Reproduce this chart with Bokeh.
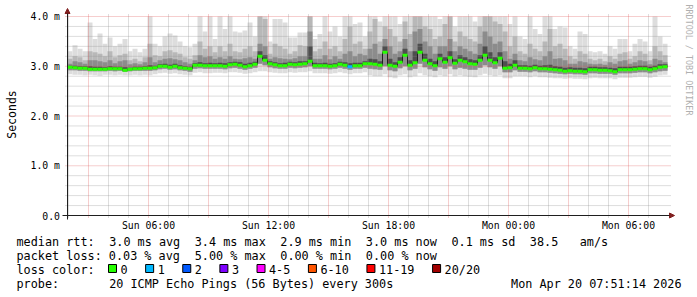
import math
import re
from bokeh.plotting import figure
from bokeh.models import Range1d, Label, BoxAnnotation, Arrow, NormalHead
from bokeh.embed import file_html
from bokeh.resources import INLINE

# ---------------- data (hours since Sun 00:00, values in ms) ----------------
start_hour = 1.95      # first 15-minute column (Sun 01:57)
step_hours = 0.25
span_hours = 30.05

median_rtt = [
    2.98, 2.97, 2.96, 2.96, 2.94, 2.94, 2.94, 2.94, 2.95, 2.95, 2.95, 2.92, 2.94, 2.95, 2.95,
    2.96, 2.96, 2.97, 3.00, 3.00, 2.98, 3.00, 2.97, 2.96, 2.95, 3.02, 3.02, 3.01, 3.01, 3.01,
    3.01, 3.00, 3.03, 3.04, 3.02, 2.99, 3.01, 3.04, 3.20, 3.12, 3.05, 3.03, 3.01, 3.01, 3.04,
    3.03, 3.04, 3.05, 3.10, 3.01, 3.01, 3.01, 3.00, 3.01, 3.04, 3.02, 2.99, 3.01, 3.01, 3.05,
    3.05, 3.04, 3.02, 3.28, 3.02, 3.00, 3.08, 3.22, 3.02, 3.07, 3.28, 3.12, 3.05, 3.01, 3.15,
    3.08, 3.17, 3.06, 3.12, 3.09, 3.05, 3.04, 3.12, 3.22, 3.12, 3.07, 3.16, 2.96, 2.97, 3.02,
    2.96, 2.96, 2.95, 2.97, 2.95, 2.95, 2.94, 2.93, 2.92, 2.90, 2.91, 2.90, 2.90, 2.89, 2.93,
    2.93, 2.92, 2.92, 2.91, 2.89, 2.93, 2.93, 2.93, 2.94, 2.95, 2.95, 2.93, 2.95, 2.98, 2.99,
]
rtt_max = [
    3.30, 3.42, 3.35, 3.30, 3.88, 3.55, 3.66, 3.45, 3.58, 3.40, 3.45, 3.55, 3.30, 3.35, 3.28,
    3.35, 4.05, 3.45, 3.40, 3.60, 3.66, 3.62, 3.50, 3.40, 3.38, 3.45, 4.05, 3.70, 4.05, 3.55,
    4.05, 3.75, 4.05, 3.70, 3.68, 3.72, 3.88, 3.60, 4.05, 4.05, 3.50, 3.95, 3.95, 3.88, 3.58,
    3.58, 3.68, 3.68, 4.05, 3.55, 3.65, 4.05, 3.70, 3.80, 3.60, 4.05, 4.05, 3.85, 3.88, 3.60,
    4.05, 4.05, 3.90, 4.05, 4.05, 4.05, 3.85, 4.05, 4.05, 4.05, 4.05, 4.05, 4.05, 4.05, 3.95,
    4.05, 4.05, 3.80, 4.05, 4.05, 4.05, 3.90, 4.05, 4.05, 4.05, 4.05, 4.05, 4.05, 3.85, 4.05,
    3.60, 3.55, 4.05, 3.75, 3.65, 4.05, 4.05, 3.75, 3.80, 3.78, 3.40, 3.35, 3.70, 3.65, 3.30,
    3.28, 3.30, 3.25, 3.40, 3.35, 3.55, 3.55, 3.30, 3.45, 3.55, 3.50, 3.30, 4.05, 3.60, 3.45,
]
rtt_p90 = [
    3.15, 3.20, 3.18, 3.12, 3.30, 3.28, 3.25, 3.20, 3.30, 3.18, 3.22, 3.25, 3.12, 3.15, 3.10,
    3.18, 3.45, 3.22, 3.20, 3.30, 3.32, 3.28, 3.25, 3.18, 3.15, 3.22, 3.50, 3.35, 3.40, 3.28,
    3.40, 3.30, 3.45, 3.30, 3.28, 3.35, 3.40, 3.30, 4.05, 3.95, 3.25, 3.45, 3.40, 3.35, 3.25,
    3.30, 3.42, 3.40, 4.00, 3.30, 3.35, 3.50, 3.35, 3.40, 3.30, 3.55, 3.80, 3.45, 3.50, 3.35,
    3.70, 3.95, 3.50, 3.80, 3.75, 3.60, 3.50, 3.90, 3.65, 4.05, 4.05, 3.80, 3.75, 3.55, 3.60,
    3.85, 4.05, 3.50, 3.70, 3.60, 3.55, 3.50, 3.80, 4.05, 4.05, 3.90, 3.85, 3.70, 3.40, 3.60,
    3.30, 3.25, 3.45, 3.35, 3.30, 3.50, 3.75, 3.40, 3.45, 3.35, 3.20, 3.15, 3.30, 3.25, 3.15,
    3.12, 3.15, 3.10, 3.20, 3.15, 3.25, 3.28, 3.15, 3.20, 3.30, 3.25, 3.12, 3.40, 3.30, 3.22,
]
rtt_p75 = [
    3.05, 3.10, 3.08, 3.05, 3.12, 3.12, 3.10, 3.08, 3.12, 3.06, 3.10, 3.12, 3.04, 3.06, 3.04,
    3.08, 3.18, 3.08, 3.12, 3.15, 3.16, 3.14, 3.12, 3.08, 3.05, 3.12, 3.22, 3.18, 3.20, 3.15,
    3.18, 3.15, 3.20, 3.15, 3.14, 3.16, 3.18, 3.15, 3.45, 3.40, 3.15, 3.18, 3.16, 3.15, 3.14,
    3.16, 3.20, 3.20, 3.70, 3.15, 3.15, 3.22, 3.14, 3.20, 3.15, 3.25, 3.30, 3.20, 3.25, 3.22,
    3.35, 3.45, 3.25, 3.55, 3.40, 3.25, 3.30, 3.55, 3.30, 3.70, 3.75, 3.50, 3.40, 3.25, 3.40,
    3.40, 3.55, 3.30, 3.40, 3.35, 3.30, 3.25, 3.45, 3.70, 3.60, 3.45, 3.50, 3.30, 3.15, 3.25,
    3.12, 3.10, 3.18, 3.14, 3.12, 3.20, 3.30, 3.15, 3.16, 3.12, 3.05, 3.05, 3.10, 3.08, 3.05,
    3.04, 3.05, 3.03, 3.08, 3.05, 3.10, 3.12, 3.05, 3.08, 3.12, 3.10, 3.04, 3.15, 3.12, 3.08,
]
rtt_p60 = [
    3.01, 3.01, 3.00, 3.00, 3.00, 2.99, 2.99, 2.98, 3.00, 2.99, 2.99, 2.98, 2.97, 2.99, 2.99,
    3.00, 3.02, 3.01, 3.04, 3.05, 3.03, 3.05, 3.02, 3.00, 2.99, 3.06, 3.08, 3.06, 3.07, 3.06,
    3.07, 3.06, 3.08, 3.09, 3.08, 3.05, 3.07, 3.09, 3.30, 3.22, 3.10, 3.08, 3.06, 3.07, 3.09,
    3.08, 3.10, 3.10, 3.40, 3.07, 3.06, 3.07, 3.05, 3.06, 3.09, 3.08, 3.06, 3.07, 3.07, 3.10,
    3.15, 3.14, 3.10, 3.40, 3.15, 3.08, 3.18, 3.35, 3.12, 3.30, 3.45, 3.25, 3.15, 3.10, 3.25,
    3.18, 3.30, 3.14, 3.22, 3.18, 3.14, 3.12, 3.22, 3.40, 3.28, 3.18, 3.28, 3.10, 3.05, 3.12,
    3.02, 3.02, 3.01, 3.03, 3.01, 3.02, 3.03, 3.00, 2.99, 2.97, 2.98, 2.97, 2.97, 2.96, 2.99,
    2.99, 2.98, 2.98, 2.97, 2.96, 2.99, 2.99, 2.99, 3.00, 3.01, 3.01, 2.99, 3.01, 3.04, 3.04,
]
rtt_p25 = [
    2.92, 2.92, 2.91, 2.91, 2.90, 2.90, 2.90, 2.90, 2.91, 2.90, 2.91, 2.89, 2.90, 2.91, 2.91,
    2.91, 2.91, 2.92, 2.94, 2.95, 2.93, 2.94, 2.92, 2.91, 2.89, 2.95, 2.96, 2.95, 2.95, 2.95,
    2.95, 2.94, 2.96, 2.97, 2.95, 2.93, 2.95, 2.97, 3.05, 3.02, 2.98, 2.96, 2.95, 2.95, 2.97,
    2.96, 2.97, 2.98, 3.00, 2.95, 2.95, 2.95, 2.94, 2.95, 2.97, 2.95, 2.93, 2.95, 2.95, 2.97,
    2.95, 2.94, 2.93, 3.00, 2.92, 2.90, 2.96, 3.00, 2.92, 2.95, 3.05, 2.98, 2.94, 2.91, 2.98,
    2.95, 3.00, 2.94, 2.97, 2.95, 2.93, 2.93, 2.97, 3.02, 2.98, 2.95, 3.00, 2.88, 2.88, 2.92,
    2.89, 2.89, 2.88, 2.90, 2.88, 2.88, 2.87, 2.86, 2.85, 2.84, 2.85, 2.84, 2.84, 2.83, 2.86,
    2.86, 2.85, 2.85, 2.85, 2.83, 2.86, 2.86, 2.86, 2.87, 2.88, 2.88, 2.86, 2.88, 2.90, 2.91,
]
rtt_min = [
    2.84, 2.83, 2.83, 2.82, 2.83, 2.82, 2.81, 2.83, 2.83, 2.82, 2.83, 2.82, 2.82, 2.83, 2.82,
    2.83, 2.82, 2.84, 2.86, 2.87, 2.85, 2.86, 2.84, 2.83, 2.82, 2.87, 2.88, 2.86, 2.86, 2.87,
    2.87, 2.86, 2.88, 2.88, 2.87, 2.85, 2.86, 2.88, 2.90, 2.90, 2.88, 2.87, 2.86, 2.86, 2.88,
    2.87, 2.88, 2.88, 2.90, 2.86, 2.86, 2.86, 2.85, 2.86, 2.88, 2.86, 2.84, 2.86, 2.86, 2.88,
    2.82, 2.80, 2.80, 2.84, 2.78, 2.76, 2.82, 2.84, 2.78, 2.80, 2.86, 2.82, 2.80, 2.78, 2.82,
    2.80, 2.84, 2.80, 2.82, 2.80, 2.79, 2.78, 2.82, 2.85, 2.82, 2.80, 2.82, 2.76, 2.76, 2.80,
    2.80, 2.80, 2.78, 2.80, 2.78, 2.78, 2.77, 2.76, 2.76, 2.75, 2.76, 2.75, 2.75, 2.74, 2.76,
    2.77, 2.76, 2.76, 2.76, 2.74, 2.77, 2.77, 2.77, 2.78, 2.79, 2.79, 2.77, 2.79, 2.82, 2.83,
]
lost_pings = [
    0, 0, 0, 0, 0, 0, 0, 0, 0, 0, 0, 0, 0, 0, 0, 0, 0, 0, 0, 0, 0, 0, 0, 0, 0, 0, 0, 0, 0, 0,
    0, 0, 0, 0, 0, 0, 0, 0, 0, 0, 0, 0, 0, 0, 0, 0, 0, 0, 0, 0, 0, 0, 0, 0, 0, 0, 1, 0, 0, 0,
    0, 0, 0, 0, 0, 0, 0, 0, 0, 0, 0, 0, 0, 0, 0, 0, 0, 0, 0, 0, 0, 0, 0, 0, 0, 0, 0, 0, 0, 0,
    0, 0, 0, 0, 0, 0, 0, 0, 0, 0, 0, 0, 0, 0, 0, 0, 0, 0, 0, 0, 0, 0, 0, 0, 0, 0, 0, 0, 0, 0,
]

x_tick_hours = [6, 12, 18, 24, 30]
x_tick_labels = ["Sun 06:00", "Sun 12:00", "Sun 18:00", "Mon 00:00", "Mon 06:00"]
y_tick_values = [0, 1, 2, 3, 4]
y_tick_labels = ["0.0", "1.0 m", "2.0 m", "3.0 m", "4.0 m"]
y_max = 4.0

loss_labels = ["0", "1", "2", "3", "4-5", "6-10", "11-19", "20/20"]
loss_upper = [0, 1, 2, 3, 5, 10, 19, 20]
loss_colors = ["#26ff00", "#00b8ff", "#0059ff", "#7e00ff", "#ff00ff", "#ff5500", "#ff0000", "#a10000"]

legend_rtt = "median rtt:  3.0 ms avg  3.4 ms max  2.9 ms min  3.0 ms now  0.1 ms sd  38.5   am/s"
legend_loss = "packet loss: 0.03 % avg  5.00 % max  0.00 % min  0.00 % now"
legend_color = "loss color:"
legend_probe = "probe:       20 ICMP Echo Pings (56 Bytes) every 300s"
legend_stamp = "Mon Apr 20 07:51:14 2026"

n = len(median_rtt)
for arr in (rtt_max, rtt_p90, rtt_p75, rtt_p60, rtt_p25, rtt_min, lost_pings):
    assert len(arr) == n

# ---------------- layout constants (canvas pixels) ----------------
W, H = 697, 297
PL, PT, PB = 67, 16, 215                 # plot area left / top / bottom
PX_H = 20.0                              # pixels per hour
PX_MS = (PB - PT) / y_max                # pixels per ms
MONO = "DejaVu Sans Mono"
GRID = "#8f8f8f"
MGRID = "#de4f4f"
AXIS = "#1f1f1f"
ARROW = "#801f1f"
CHAR_W = 7.13
LEG_X = 16

# the frame is the whole canvas; the plot area is a sub-region of it
x_lo = start_hour - PL / PX_H
x_hi = start_hour + (W - PL) / PX_H
y_lo = -(H - PB) / PX_MS
y_hi = PB / PX_MS

p = figure(width=W, height=H, x_range=Range1d(x_lo, x_hi), y_range=Range1d(y_lo, y_hi),
           output_backend="svg", toolbar_location=None, min_border=0,
           x_axis_location=None, y_axis_location=None,
           background_fill_color="white", border_fill_color="white", outline_line_color=None)
p.xgrid.visible = False
p.ygrid.visible = False

def hx(px):   # canvas px -> hours
    return start_hour + (px - PL) / PX_H
def vy(py):   # canvas px -> ms
    return (PB - py) / PX_MS
def sy(py):   # canvas px -> screen units (y up from bottom)
    return H - py

lefts = [start_hour + step_hours * i for i in range(n)]
rights = [l + step_hours for l in lefts]
clip = lambda arr: [min(v, y_max) for v in arr]

# ---------------- smoke layers (outer light -> inner dark) ----------------
p.quad(left=lefts, right=rights, bottom=rtt_min, top=clip(rtt_max), fill_color="#dddddd", line_color=None)
p.quad(left=lefts, right=rights, bottom=rtt_p25, top=clip(rtt_p90), fill_color="#b8b8b8", line_color=None)
p.quad(left=lefts, right=rights, bottom=rtt_p25, top=clip(rtt_p75), fill_color="#8c8c8c", line_color=None)
p.quad(left=lefts, right=rights, bottom=median_rtt, top=clip(rtt_p60), fill_color="#4e4e4e", line_color=None)

# ---------------- grid ----------------
minor_h = [h for h in range(2, 32) if h % 3]
major_h = [h for h in range(3, 31, 3)]
minor_v = [i * 0.2 for i in range(1, 20) if i % 5]
major_v = [1, 2, 3, 4]
p.segment(x0=minor_h, y0=[vy(PB + 2)] * len(minor_h), x1=minor_h, y1=[vy(PT - 2)] * len(minor_h),
          line_color=GRID, line_alpha=0.6, line_dash="1 1", line_width=1)
p.segment(x0=[hx(PL - 2)] * len(minor_v), y0=minor_v, x1=[hx(668 + 2)] * len(minor_v), y1=minor_v,
          line_color=GRID, line_alpha=0.6, line_dash="1 1", line_width=1)
p.segment(x0=major_h, y0=[vy(PB + 2)] * len(major_h), x1=major_h, y1=[vy(PT - 2)] * len(major_h),
          line_color=MGRID, line_alpha=0.55, line_dash="1 1", line_width=1)
p.segment(x0=[hx(PL - 2)] * len(major_v), y0=major_v, x1=[hx(668 + 2)] * len(major_v), y1=major_v,
          line_color=MGRID, line_alpha=0.55, line_dash="1 1", line_width=1)

# ---------------- median ----------------
p.step(x=lefts + [rights[-1]], y=median_rtt + [median_rtt[-1]], mode="after",
       line_color="#202020", line_width=1)

def loss_color(lv):
    for up, c in zip(loss_upper, loss_colors):
        if lv <= up:
            return c
    return loss_colors[-1]
med_cols = [loss_color(v) for v in lost_pings]
half = 1.5 / PX_MS
p.quad(left=lefts, right=rights, bottom=[m - half for m in median_rtt],
       top=[m + half for m in median_rtt], fill_color=med_cols, line_color=None)

# ---------------- axis lines with arrows ----------------
p.add_layout(Arrow(x_start=start_hour, y_start=vy(PB + 4), x_end=start_hour, y_end=vy(8),
                   line_color=AXIS, line_width=1,
                   end=NormalHead(size=5, fill_color=ARROW, line_color=ARROW, line_width=1)))
p.add_layout(Arrow(x_start=hx(PL - 5), y_start=0, x_end=hx(674), y_end=0,
                   line_color=AXIS, line_width=1,
                   end=NormalHead(size=5, fill_color=ARROW, line_color=ARROW, line_width=1)))

# ---------------- tick labels ----------------
for h, lab in zip(x_tick_hours, x_tick_labels):
    p.add_layout(Label(x=h, y=sy(224.5), x_units="data", y_units="screen", text=lab,
                       text_font=MONO, text_font_size="9.8px", text_color="#000000",
                       text_align="center", text_baseline="middle"))
for v, lab in zip(y_tick_values, y_tick_labels):
    p.add_layout(Label(x=59.5, y=v, x_units="screen", y_units="data", text=lab,
                       text_font=MONO, text_font_size="9.8px", text_color="#000000",
                       text_align="right", text_baseline="middle"))

def add_text(cx, cy, text, size="11.8px", color="#000000", align="left", angle=0.0):
    p.add_layout(Label(x=cx, y=sy(cy), x_units="screen", y_units="screen", text=text,
                       text_font=MONO, text_font_size=size, text_color=color,
                       text_align=align, text_baseline="middle", angle=angle))

def add_line(cy, line):
    # monospace legend line: each run of words is placed at its own column
    for m in re.finditer(r"\S+(?: \S+)*", line):
        add_text(LEG_X + m.start() * CHAR_W, cy, m.group())

# y axis title and watermark
add_text(11, 114, "Seconds", size="11.5px", align="center", angle=math.pi / 2)
add_text(688, 4, "RRDTOOL / TOBI OETIKER", size="8.4px", color="#b0b0b0", angle=-math.pi / 2)

# ---------------- legend ----------------
add_line(241, legend_rtt)
add_line(255, legend_loss)
add_line(269, legend_color)
add_line(283.5, legend_probe)
add_text(681, 283.5, legend_stamp, align="right")

bx = 108.0
for lab, col in zip(loss_labels, loss_colors):
    p.add_layout(BoxAnnotation(left=bx, right=bx + 8, top=sy(264), bottom=sy(272),
                               left_units="screen", right_units="screen",
                               top_units="screen", bottom_units="screen",
                               fill_color=col, fill_alpha=1.0, line_color="#000000",
                               line_alpha=1.0, line_width=1))
    add_text(bx + 12, 269, lab)
    bx = bx + 12 + len(lab) * CHAR_W + 18

open("out.html", "w").write(file_html(p, INLINE))
